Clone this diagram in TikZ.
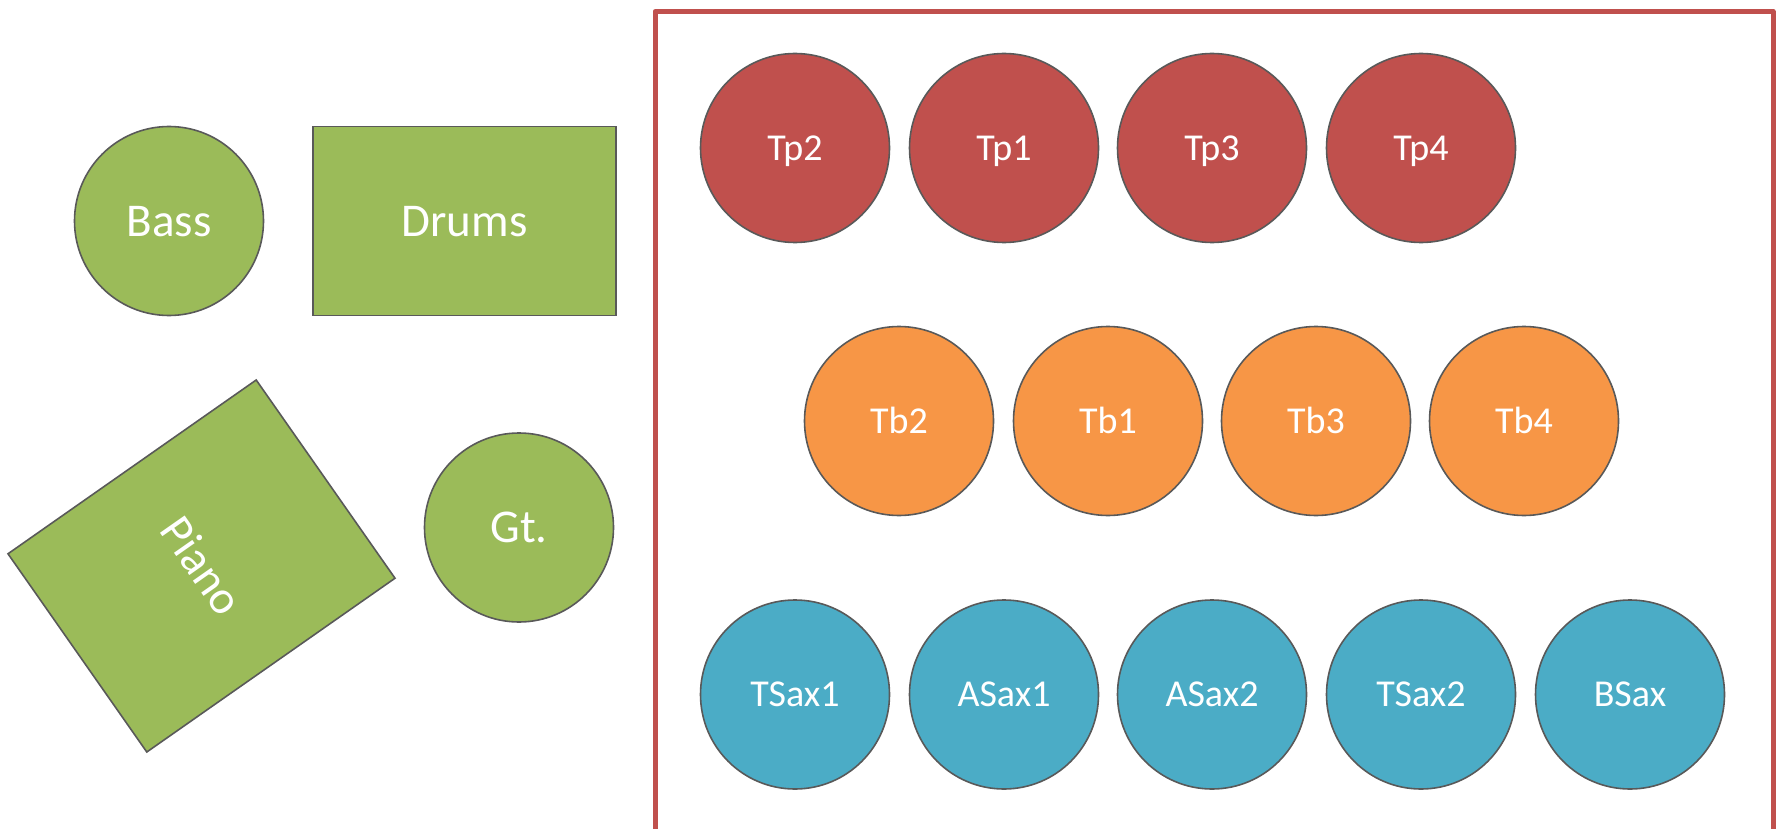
\documentclass[tikz,border=0pt]{standalone}
\usepackage{fontspec}
\setmainfont{Carlito}
\definecolor{grn}{HTML}{9BBB59}
\definecolor{rd}{HTML}{C0504D}
\definecolor{org}{HTML}{F79646}
\definecolor{blu}{HTML}{4BACC6}
\definecolor{edge}{HTML}{595959}
\tikzset{
  base/.style={draw=edge, line width=1.6pt, text=white, inner sep=0pt, text depth=0pt},
  rhythm/.style={base, fill=grn, font=\fontsize{47}{56}\selectfont, text height=30.3pt},
  player/.style={base, circle, minimum size=189pt, font=\fontsize{38}{46}\selectfont, text height=24.5pt},
  tp/.style={player, fill=rd},
  tb/.style={player, fill=org},
  sax/.style={player, fill=blu},
  frame/.style={draw=rd, line width=5pt, line join=round},
}
\begin{document}
\begin{tikzpicture}[x=1pt, y=-1pt]
\useasboundingbox (0,0) rectangle (1785,829);
% rhythm section
\node[rhythm, circle, minimum size=189pt] (bass) at (169,221) {Bass};
\node[rhythm, rectangle, minimum width=303pt, minimum height=189pt] (drums) at (464.5,221) {Drums};
\node[rhythm, rectangle, minimum width=242pt, minimum height=303pt, rotate=-55] (piano) at (201.5,566) {Piano};
\node[rhythm, circle, minimum size=189pt] (gt) at (519,527.5) {Gt.};
% frame
\coordinate (fbl) at (655,860);
\coordinate (ftl) at (655,11.5);
\coordinate (ftr) at (1773,11.5);
\coordinate (fbr) at (1773,860);
\draw[frame] (fbl) -- (ftl) -- (ftr) -- (fbr);
% trumpets
\node[tp] (tp2) at (795,148) {Tp2};
\node[tp] (tp1) at (1004,148) {Tp1};
\node[tp] (tp3) at (1212,148) {Tp3};
\node[tp] (tp4) at (1421,148) {Tp4};
% trombones
\node[tb] (tb2) at (899,421) {Tb2};
\node[tb] (tb1) at (1108,421) {Tb1};
\node[tb] (tb3) at (1316,421) {Tb3};
\node[tb] (tb4) at (1524,421) {Tb4};
% saxes
\node[sax] (ts1) at (795,694.5) {TSax1};
\node[sax] (as1) at (1004,694.5) {ASax1};
\node[sax] (as2) at (1212,694.5) {ASax2};
\node[sax] (ts2) at (1421,694.5) {TSax2};
\node[sax] (bs) at (1630,694.5) {BSax};
\end{tikzpicture}
\end{document}
